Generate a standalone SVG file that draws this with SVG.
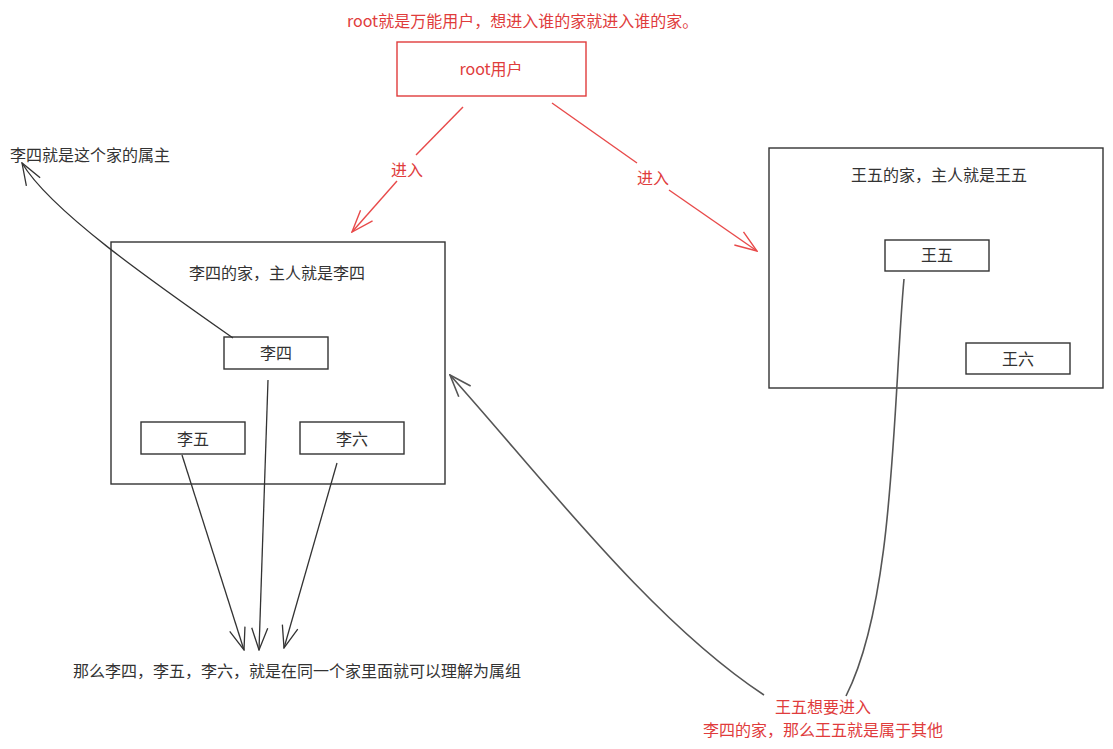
<svg xmlns="http://www.w3.org/2000/svg" width="1113" height="749" viewBox="0 0 1113 749">
<style>
text{font-family:"Noto Sans CJK SC","Liberation Sans",sans-serif;font-size:16px;}
.t{fill:#333;}
.r{fill:#e03c3c;}
.box{fill:#fff;stroke:#333;stroke-width:1.4;}
.rbox{fill:#fff;stroke:#e03c3c;stroke-width:1.4;}
.ln{fill:none;stroke:#333;stroke-width:1.3;}
.gl{fill:none;stroke:#555;stroke-width:1.6;}
.rl{fill:none;stroke:#e84a4a;stroke-width:1.4;}
</style>
<defs>
<marker id="ab" markerUnits="userSpaceOnUse" viewBox="-1 -10 24 20" refX="22" refY="0" markerWidth="24" markerHeight="20" orient="auto"><path d="M0,-8 L22,0 L0,8" fill="none" stroke="#333" stroke-width="1.3"/></marker>
<marker id="ag" markerUnits="userSpaceOnUse" viewBox="-1 -10 24 20" refX="22" refY="0" markerWidth="24" markerHeight="20" orient="auto"><path d="M0,-8 L22,0 L0,8" fill="none" stroke="#555" stroke-width="1.6"/></marker>
<marker id="ar" markerUnits="userSpaceOnUse" viewBox="-1 -10 24 20" refX="22" refY="0" markerWidth="24" markerHeight="20" orient="auto"><path d="M0,-8 L22,0 L0,8" fill="none" stroke="#e84a4a" stroke-width="1.4"/></marker>
</defs>
<rect width="1113" height="749" fill="#fff"/>
<text class="r" x="347" y="27">root就是万能用户，想进入谁的家就进入谁的家。</text>
<g id="root"><rect class="rbox" x="397" y="42" width="189" height="54"/><text class="r" x="491" y="75" text-anchor="middle">root用户</text></g>
<g id="lisi-home"><rect class="box" x="111" y="242" width="334" height="242"/><text class="t" x="277" y="279" text-anchor="middle">李四的家，主人就是李四</text></g>
<g id="lisi"><rect class="box" x="224" y="337" width="104" height="32"/><text class="t" x="276" y="359" text-anchor="middle">李四</text></g>
<g id="liwu"><rect class="box" x="141" y="422" width="104" height="32"/><text class="t" x="193" y="445" text-anchor="middle">李五</text></g>
<g id="liliu"><rect class="box" x="300" y="422" width="104" height="32"/><text class="t" x="352" y="445" text-anchor="middle">李六</text></g>
<g id="wangwu-home"><rect class="box" x="769" y="148" width="334" height="240"/><text class="t" x="939" y="181" text-anchor="middle">王五的家，主人就是王五</text></g>
<g id="wangwu"><rect class="box" x="885" y="240" width="104" height="31"/><text class="t" x="937" y="261" text-anchor="middle">王五</text></g>
<g id="wangliu"><rect class="box" x="966" y="343" width="104" height="31"/><text class="t" x="1018" y="365" text-anchor="middle">王六</text></g>
<g id="owner-note"><text class="t" x="10" y="161">李四就是这个家的属主</text></g>
<g id="group-note"><text class="t" x="73" y="677">那么李四，李五，李六，就是在同一个家里面就可以理解为属组</text></g>
<g id="other-note"><text class="r" x="823" y="713" text-anchor="middle">王五想要进入</text><text class="r" x="823" y="736" text-anchor="middle">李四的家，那么王五就是属于其他</text></g>
<g id="connectors">
<path class="rl" d="M463,107 L416,155"/>
<path class="rl" d="M397,181 L352,232" marker-end="url(#ar)"/>
<text class="r" x="407" y="176" text-anchor="middle">进入</text>
<path class="rl" d="M552,103 L637,163"/>
<path class="rl" d="M669,190 L757,251" marker-end="url(#ar)"/>
<text class="r" x="653" y="184" text-anchor="middle">进入</text>
<path class="ln" d="M233,338 C150,280 50,210 22,163" marker-end="url(#ab)"/>
<path class="ln" d="M182,455 L244,650" marker-end="url(#ab)"/>
<path class="ln" d="M268,380 L259,650" marker-end="url(#ab)"/>
<path class="ln" d="M337,463 L284,648" marker-end="url(#ab)"/>
<path class="gl" d="M904,279 C893,400 895,600 846,696"/>
<path class="gl" d="M764,695 C650,620 540,475 450,375" marker-end="url(#ag)"/>
</g>
</svg>
